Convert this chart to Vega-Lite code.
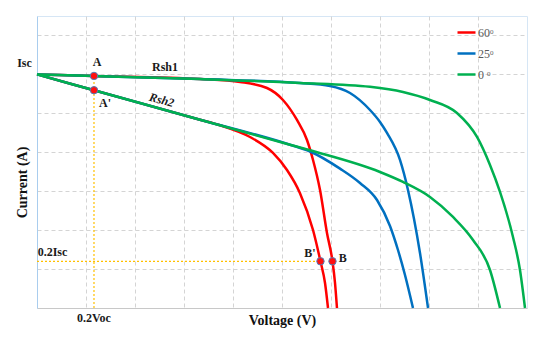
{
  "$schema": "https://vega.github.io/schema/vega-lite/v6.json",
  "width": 490,
  "height": 292,
  "autosize": {"type": "none"},
  "padding": {"left": 37, "top": 16, "right": 23, "bottom": 29},
  "background": "white",
  "config": {
    "view": {"stroke": "#d6e6f5", "strokeWidth": 1},
    "font": "Liberation Serif"
  },
  "datasets": {
    "curves": [
      {"c": "r1", "a": "60ᵒ", "v": 0, "i": 6},
      {"c": "r1", "a": "60ᵒ", "v": 1.163, "i": 5.96},
      {"c": "r1", "a": "60ᵒ", "v": 3.327, "i": 5.88},
      {"c": "r1", "a": "60ᵒ", "v": 4.143, "i": 5.805},
      {"c": "r1", "a": "60ᵒ", "v": 4.694, "i": 5.651},
      {"c": "r1", "a": "60ᵒ", "v": 5.02, "i": 5.343},
      {"c": "r1", "a": "60ᵒ", "v": 5.306, "i": 4.829},
      {"c": "r1", "a": "60ᵒ", "v": 5.51, "i": 4.315},
      {"c": "r1", "a": "60ᵒ", "v": 5.633, "i": 3.802},
      {"c": "r1", "a": "60ᵒ", "v": 5.776, "i": 3.031},
      {"c": "r1", "a": "60ᵒ", "v": 5.918, "i": 1.927},
      {"c": "r1", "a": "60ᵒ", "v": 6.03, "i": 1.2},
      {"c": "r1", "a": "60ᵒ", "v": 6.082, "i": 0.642},
      {"c": "r1", "a": "60ᵒ", "v": 6.122, "i": 0},
      {"c": "r2", "a": "60ᵒ", "v": 0, "i": 6},
      {"c": "r2", "a": "60ᵒ", "v": 1.163, "i": 5.593},
      {"c": "r2", "a": "60ᵒ", "v": 3.327, "i": 4.836},
      {"c": "r2", "a": "60ᵒ", "v": 3.735, "i": 4.693},
      {"c": "r2", "a": "60ᵒ", "v": 4.347, "i": 4.393},
      {"c": "r2", "a": "60ᵒ", "v": 4.816, "i": 3.982},
      {"c": "r2", "a": "60ᵒ", "v": 5.102, "i": 3.545},
      {"c": "r2", "a": "60ᵒ", "v": 5.367, "i": 2.95},
      {"c": "r2", "a": "60ᵒ", "v": 5.633, "i": 2.004},
      {"c": "r2", "a": "60ᵒ", "v": 5.785, "i": 1.2},
      {"c": "r2", "a": "60ᵒ", "v": 5.878, "i": 0.642},
      {"c": "r2", "a": "60ᵒ", "v": 5.939, "i": 0},
      {"c": "b1", "a": "25ᵒ", "v": 0, "i": 6},
      {"c": "b1", "a": "25ᵒ", "v": 1.163, "i": 5.96},
      {"c": "b1", "a": "25ᵒ", "v": 3.327, "i": 5.88},
      {"c": "b1", "a": "25ᵒ", "v": 5.367, "i": 5.78},
      {"c": "b1", "a": "25ᵒ", "v": 5.98, "i": 5.703},
      {"c": "b1", "a": "25ᵒ", "v": 6.388, "i": 5.523},
      {"c": "b1", "a": "25ᵒ", "v": 6.796, "i": 5.086},
      {"c": "b1", "a": "25ᵒ", "v": 7.0, "i": 4.778},
      {"c": "b1", "a": "25ᵒ", "v": 7.143, "i": 4.495},
      {"c": "b1", "a": "25ᵒ", "v": 7.408, "i": 3.802},
      {"c": "b1", "a": "25ᵒ", "v": 7.571, "i": 3.031},
      {"c": "b1", "a": "25ᵒ", "v": 7.816, "i": 1.413},
      {"c": "b1", "a": "25ᵒ", "v": 7.98, "i": 0},
      {"c": "b2", "a": "25ᵒ", "v": 0, "i": 6},
      {"c": "b2", "a": "25ᵒ", "v": 1.163, "i": 5.593},
      {"c": "b2", "a": "25ᵒ", "v": 3.327, "i": 4.836},
      {"c": "b2", "a": "25ᵒ", "v": 5.163, "i": 4.193},
      {"c": "b2", "a": "25ᵒ", "v": 5.571, "i": 4.02},
      {"c": "b2", "a": "25ᵒ", "v": 6.184, "i": 3.58},
      {"c": "b2", "a": "25ᵒ", "v": 6.592, "i": 3.211},
      {"c": "b2", "a": "25ᵒ", "v": 6.939, "i": 2.774},
      {"c": "b2", "a": "25ᵒ", "v": 7.204, "i": 2.106},
      {"c": "b2", "a": "25ᵒ", "v": 7.367, "i": 1.49},
      {"c": "b2", "a": "25ᵒ", "v": 7.51, "i": 0.848},
      {"c": "b2", "a": "25ᵒ", "v": 7.673, "i": 0},
      {"c": "g1", "a": "0 ᵒ", "v": 0, "i": 6},
      {"c": "g1", "a": "0 ᵒ", "v": 1.163, "i": 5.96},
      {"c": "g1", "a": "0 ᵒ", "v": 3.327, "i": 5.88},
      {"c": "g1", "a": "0 ᵒ", "v": 5.367, "i": 5.78},
      {"c": "g1", "a": "0 ᵒ", "v": 6.796, "i": 5.68},
      {"c": "g1", "a": "0 ᵒ", "v": 7.469, "i": 5.548},
      {"c": "g1", "a": "0 ᵒ", "v": 8.02, "i": 5.343},
      {"c": "g1", "a": "0 ᵒ", "v": 8.571, "i": 5.009},
      {"c": "g1", "a": "0 ᵒ", "v": 8.98, "i": 4.393},
      {"c": "g1", "a": "0 ᵒ", "v": 9.245, "i": 3.673},
      {"c": "g1", "a": "0 ᵒ", "v": 9.449, "i": 2.98},
      {"c": "g1", "a": "0 ᵒ", "v": 9.714, "i": 1.824},
      {"c": "g1", "a": "0 ᵒ", "v": 9.857, "i": 0.976},
      {"c": "g1", "a": "0 ᵒ", "v": 9.959, "i": 0},
      {"c": "g2", "a": "0 ᵒ", "v": 0, "i": 6},
      {"c": "g2", "a": "0 ᵒ", "v": 1.163, "i": 5.593},
      {"c": "g2", "a": "0 ᵒ", "v": 3.327, "i": 4.836},
      {"c": "g2", "a": "0 ᵒ", "v": 5.163, "i": 4.193},
      {"c": "g2", "a": "0 ᵒ", "v": 5.571, "i": 4.05},
      {"c": "g2", "a": "0 ᵒ", "v": 7.0, "i": 3.493},
      {"c": "g2", "a": "0 ᵒ", "v": 7.469, "i": 3.237},
      {"c": "g2", "a": "0 ᵒ", "v": 8.02, "i": 2.851},
      {"c": "g2", "a": "0 ᵒ", "v": 8.49, "i": 2.338},
      {"c": "g2", "a": "0 ᵒ", "v": 8.898, "i": 1.747},
      {"c": "g2", "a": "0 ᵒ", "v": 9.245, "i": 0.976},
      {"c": "g2", "a": "0 ᵒ", "v": 9.449, "i": 0}
    ],
    "vguide": [{"v": 1.163, "i": 0, "i2": 5.96}],
    "hguide": [{"v": 0, "v2": 5.785, "i": 1.2}],
    "points": [
      {"p": "A", "v": 1.163, "i": 5.96},
      {"p": "A'", "v": 1.163, "i": 5.593},
      {"p": "B'", "v": 5.785, "i": 1.2},
      {"p": "B", "v": 6.03, "i": 1.2}
    ],
    "labels": [
      {"t": "Isc", "v": -0.255, "i": 6.293},
      {"t": "A", "v": 1.224, "i": 6.319},
      {"t": "Rsh1", "v": 2.612, "i": 6.19},
      {"t": "A'", "v": 1.388, "i": 5.266},
      {"t": "0.2Isc", "v": 0.316, "i": 1.438},
      {"t": "B'", "v": 5.571, "i": 1.42},
      {"t": "B", "v": 6.238, "i": 1.277},
      {"t": "0.2Voc", "v": 1.163, "i": -0.257}
    ],
    "italic": [
      {"t": "Rsh2", "v": 2.545, "i": 5.343}
    ]
  },
  "layer": [
    {
      "data": {"name": "vguide"},
      "mark": {"type": "rule", "color": "#ffc000", "strokeWidth": 1.2, "strokeDash": [2, 2]},
      "encoding": {
        "x": {"field": "v", "type": "quantitative", "scale": {"domain": [0, 10], "nice": false, "zero": false},
          "axis": {"values": [1, 2, 3, 4, 5, 6, 7, 8, 9], "grid": true, "gridDash": [4, 3], "gridColor": "#d4d4d4", "labels": false, "ticks": false, "domainColor": "#c8c8c8", "title": "Voltage (V)", "titleFontSize": 14, "titleFontWeight": "bold", "titleColor": "#111111", "titlePadding": 5}},
        "y": {"field": "i", "type": "quantitative", "scale": {"domain": [0, 7.5], "nice": false, "zero": false},
          "axis": {"values": [1, 2, 3, 4, 5, 6, 7], "grid": true, "gridDash": [4, 3], "gridColor": "#d4d4d4", "labels": false, "ticks": false, "domainColor": "#a9cdee", "title": "Current (A)", "titleFontSize": 14, "titleFontWeight": "bold", "titleColor": "#111111", "titlePadding": 8, "titleY": 166}},
        "y2": {"field": "i2"}
      }
    },
    {
      "data": {"name": "hguide"},
      "mark": {"type": "rule", "color": "#ffc000", "strokeWidth": 1.2, "strokeDash": [2, 2]},
      "encoding": {
        "x": {"field": "v", "type": "quantitative"},
        "x2": {"field": "v2"},
        "y": {"field": "i", "type": "quantitative"}
      }
    },
    {
      "data": {"name": "curves"},
      "mark": {"type": "line", "interpolate": "monotone", "strokeWidth": 2.5},
      "encoding": {
        "x": {"field": "v", "type": "quantitative"},
        "y": {"field": "i", "type": "quantitative"},
        "detail": {"field": "c"},
        "color": {"field": "a", "type": "nominal",
          "scale": {"domain": ["60ᵒ", "25ᵒ", "0 ᵒ"], "range": ["#ff0000", "#0070c0", "#00b050"]},
          "legend": {"title": null, "orient": "none", "legendX": 419, "legendY": 6, "symbolType": "stroke", "symbolSize": 324, "symbolStrokeWidth": 2.5, "labelFont": "Liberation Serif", "labelFontSize": 12, "labelColor": "#5a5a5a", "labelOffset": 1, "rowPadding": 4, "padding": 0}},
        "order": {"field": "c", "sort": "descending"}
      }
    },
    {
      "data": {"name": "points"},
      "mark": {"type": "circle", "size": 55, "fill": "#ff1010", "stroke": "#4f81bd", "strokeWidth": 1, "opacity": 1},
      "encoding": {
        "x": {"field": "v", "type": "quantitative"},
        "y": {"field": "i", "type": "quantitative"}
      }
    },
    {
      "data": {"name": "labels"},
      "mark": {"type": "text", "font": "Liberation Serif", "fontWeight": "bold", "fontSize": 12, "color": "#1a1a1a", "clip": false},
      "encoding": {
        "x": {"field": "v", "type": "quantitative"},
        "y": {"field": "i", "type": "quantitative"},
        "text": {"field": "t"}
      }
    },
    {
      "data": {"name": "italic"},
      "mark": {"type": "text", "font": "Liberation Serif", "fontWeight": "bold", "fontStyle": "italic", "fontSize": 12, "angle": 15, "color": "#1a1a1a"},
      "encoding": {
        "x": {"field": "v", "type": "quantitative"},
        "y": {"field": "i", "type": "quantitative"},
        "text": {"field": "t"}
      }
    }
  ]
}
